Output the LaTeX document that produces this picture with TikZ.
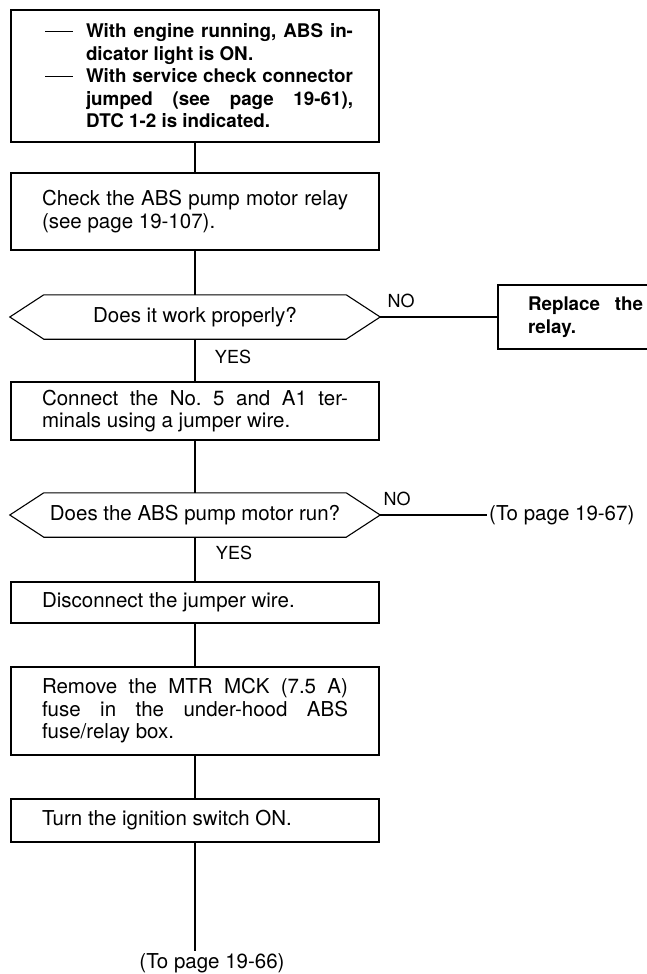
\documentclass[tikz,border=0pt]{standalone}
\usepackage{fontspec}
\setmainfont{TeX Gyre Heros}
\frenchspacing
\newcommand\hexpath[1]{\draw[link] (#1.west) -- ([xshift=34pt]#1.north west) -- ([xshift=-34pt]#1.north east) -- (#1.east) -- ([xshift=-34pt]#1.south east) -- ([xshift=34pt]#1.south west) -- cycle;}
\newcommand\dashitem{\makebox[43pt][l]{\hspace{2pt}\rule[0.3em]{28pt}{1.4pt}}}
\tikzset{
  link/.style={line width=1.1pt},
  box/.style={draw, line width=1.1pt, inner sep=0pt, minimum width=368pt, text width=306pt, align=justify, font=\fontsize{20.5}{22.5}\selectfont},
  topbox/.style={draw, line width=1.1pt, inner sep=0pt, minimum width=368pt, minimum height=132pt},
  sidebox/.style={draw, line width=1.1pt, inner ysep=0pt, inner xsep=30pt, minimum height=64pt, text width=115pt, align=justify, font=\fontsize{18.8}{22.5}\selectfont\bfseries},
  hexa/.style={inner sep=0pt, minimum width=370pt, minimum height=44pt, font=\fontsize{20.5}{22.5}\selectfont},
  lbl/.style={inner sep=0pt, font=\fontsize{18}{20}\selectfont},
  note/.style={inner sep=2pt, font=\fontsize{20.5}{22.5}\selectfont},
}
\begin{document}
\begin{tikzpicture}[x=1pt,y=-1pt]
\clip (0,0) rectangle (647,974);
\fill[white] (0,0) rectangle (647,974);

\node[topbox] (b1) at (195,76) {\hspace*{6pt}\parbox{310pt}{\fontsize{18.8}{22.5}\selectfont\bfseries\hyphenpenalty=10000
\hangindent=43pt\hangafter=1\noindent\dashitem With engine running, ABS in-\linebreak dicator light is ON.\par
\hangindent=43pt\hangafter=1\noindent\dashitem With service check connector\linebreak jumped (see page 19-61),\linebreak DTC 1-2 is indicated.\par}};

\node[box, minimum height=77pt] (b2) at (195,211.5) {Check the ABS pump motor relay\linebreak (see page 19-107).};

\node[hexa] (d1) at (195,317) {Does it work properly?};
\hexpath{d1}

\node[sidebox] (b3) at (585.5,317) {Replace the\linebreak relay.};

\node[box, minimum height=58pt] (b4) at (195,411) {Connect the No. 5 and A1 ter-\linebreak minals using a jumper wire.};

\node[hexa] (d2) at (195,515) {Does the ABS pump motor run?};
\hexpath{d2}

\node[note, anchor=west] (to67) at (487,515) {(To page 19-67)};

\node[box, minimum height=41pt] (b5) at (195,602.5) {Disconnect the jumper wire.};
\node[box, minimum height=88pt] (b6) at (195,711) {Remove the MTR MCK (7.5 A)\linebreak fuse in the under-hood ABS\linebreak fuse/relay box.};
\node[box, minimum height=43pt] (b7) at (195,820.5) {Turn the ignition switch ON.};

\node[note] (to66) at (212,963) {(To page 19-66)};

\node[lbl] (no1) at (401,301) {NO};
\node[lbl] (yes1) at (233,357) {YES};
\node[lbl] (no2) at (397,499) {NO};
\node[lbl] (yes2) at (234,553) {YES};

\draw[link] (b1.south) -- (b2.north);
\draw[link] (b2.south) -- (d1.north);
\draw[link] (d1.east) -- (b3.west);
\draw[link] (d1.south) -- (b4.north);
\draw[link] (b4.south) -- (d2.north);
\draw[link] (d2.east) -- (to67.west);
\draw[link] (d2.south) -- (b5.north);
\draw[link] (b5.south) -- (b6.north);
\draw[link] (b6.south) -- (b7.north);
\draw[link] (b7.south) -- (b7.south |- to66.north);
\end{tikzpicture}
\end{document}
